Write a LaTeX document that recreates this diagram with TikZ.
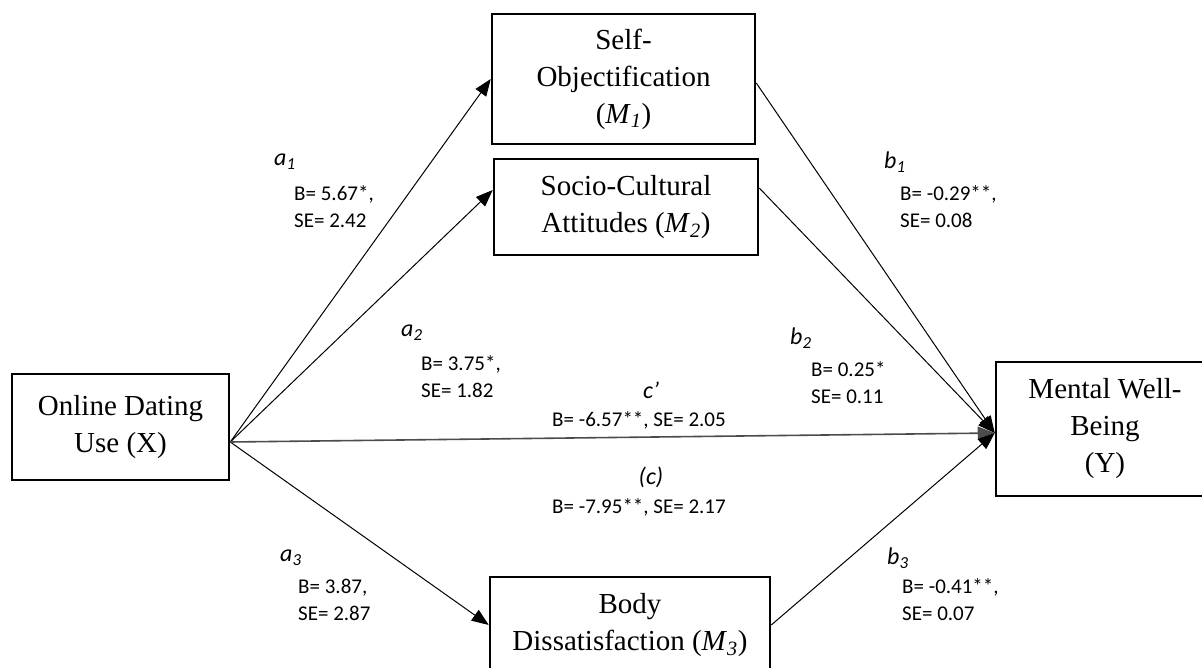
\documentclass[tikz,border=0pt]{standalone}
\usepackage{fontspec}
\setmainfont{Liberation Serif}
\newfontfamily\labfont{Carlito}
\usetikzlibrary{arrows.meta}
\tikzset{
  box/.style={draw, line width=2.5pt, align=center, inner sep=0pt, font=\fontsize{29}{37}\selectfont},
  conn/.style={line width=1pt, -{Triangle[length=17pt,width=13pt]}},
  lab/.style={font=\labfont\fontsize{21}{27}\selectfont, align=left, inner sep=0pt},
  sym/.style={font=\labfont\itshape\fontsize{24}{27}\selectfont, inner sep=0pt},
}
\begin{document}
\begin{tikzpicture}[x=1pt,y=-1pt]
\useasboundingbox (0,0) rectangle (1202,668);
\fill[white] (0,0) rectangle (1202,668);
\clip (0,0) rectangle (1202,668);
% boxes
\node[box, minimum width=217pt, minimum height=106pt] (X) at (120.5,427) {Online Dating\\Use (X)};
\node[box, minimum width=263pt, minimum height=130pt] (M1) at (623.5,79) {Self-\\Objectification\\(\textit{M}\textsubscript{\textit{1}})};
\node[box, minimum width=264pt, minimum height=96pt] (M2) at (626,207) {Socio-Cultural\\Attitudes (\textit{M}\textsubscript{\textit{2}})};
\node[box, minimum width=280pt, minimum height=96pt] (M3) at (630,625) {Body\\Dissatisfaction (\textit{M}\textsubscript{\textit{3}})};
\node[box, minimum width=218pt, minimum height=134pt] (Y) at (1105,429) {Mental Well-\\Being\\(Y)};
% connector ends
\coordinate (xo) at ([yshift=-15pt]X.east);
\coordinate (yi) at ([yshift=-4pt]Y.west);
\coordinate (m2i) at ([yshift=17pt]M2.west);
\coordinate (m2o) at ([yshift=19pt]M2.east);
\coordinate (m1o) at ([yshift=-4pt]M1.east);
% connectors
\draw[conn] (xo) -- (M1.west);
\draw[conn] (xo) -- (m2i);
\draw[conn] (xo) -- (M3.west);
\draw[conn, line width=1.6pt, draw=black!70, fill=black] (xo) -- (yi);
\draw[conn] (m1o) -- (yi);
\draw[conn] (m2o) -- (yi);
\draw[conn] (M3.east) -- (yi);
% labels
\node[sym, anchor=west] (la1) at (274,162) {a\textsubscript{1}};
\node[lab, anchor=west] (ta1) at (294,206.5) {B= 5.67*,\\SE= 2.42};
\node[sym, anchor=west] (lb1) at (884,162) {b\textsubscript{1}};
\node[lab, anchor=west] (tb1) at (900,206.5) {B= -0.29**,\\SE= 0.08};
\node[sym, anchor=west] (la2) at (401,333) {a\textsubscript{2}};
\node[lab, anchor=west] (ta2) at (421,376.5) {B= 3.75*,\\SE= 1.82};
\node[sym, anchor=west] (lb2) at (790,338) {b\textsubscript{2}};
\node[lab, anchor=west] (tb2) at (811,382.5) {B= 0.25*\\SE= 0.11};
\node[sym] (lc1) at (651,390) {c’};
\node[lab] (tc1) at (639,420) {B= -6.57**, SE= 2.05};
\node[sym] (lc) at (651,477) {(c)};
\node[lab] (tc) at (639,507) {B= -7.95**, SE= 2.17};
\node[sym, anchor=west] (la3) at (280,558) {a\textsubscript{3}};
\node[lab, anchor=west] (ta3) at (298,600) {B= 3.87,\\SE= 2.87};
\node[sym, anchor=west] (lb3) at (887,558) {b\textsubscript{3}};
\node[lab, anchor=west] (tb3) at (902,600) {B= -0.41**,\\SE= 0.07};
\end{tikzpicture}
\end{document}
